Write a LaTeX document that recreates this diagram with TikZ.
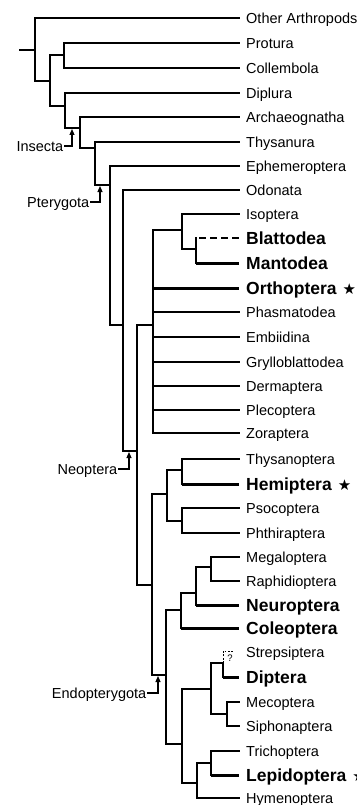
\documentclass[tikz,border=0pt]{standalone}
\usepackage{fontspec}
\setmainfont{Liberation Sans}
\newfontfamily\symfont{DejaVu Sans}
\usetikzlibrary{arrows.meta}
\newcommand\starsym{\hspace{6pt}{\symfont\fontsize{15}{15}\selectfont\mdseries ★}}
\begin{document}
\begin{tikzpicture}[x=1pt,y=-1pt,
  br/.style={line width=1.1pt,line cap=rect},
  thk/.style={line width=3pt},
  dsh/.style={line width=2.6pt,dash pattern=on 7pt off 4pt,dash phase=8pt},
  qdsh/.style={line width=0.9pt,dash pattern=on 1.8pt off 1.6pt},
  leaf/.style={anchor=west,inner xsep=7pt,inner ysep=0pt,text height=10.4pt,text depth=0pt,font=\fontsize{14.5}{14.5}\selectfont},
  bleaf/.style={leaf,text height=12.5pt,font=\fontsize{17.5}{17.5}\selectfont\bfseries},
  grp/.style={anchor=east,inner sep=0.5pt,text height=10.4pt,text depth=0pt,font=\fontsize{14.5}{14.5}\selectfont},
  arr/.style={line width=1.1pt,-{Triangle[width=5pt,length=6pt]}},
]
\useasboundingbox (0,0) rectangle (356,805);
% leaves
\node[leaf]  (oth)  at (239,18)  {Other Arthropods};
\node[leaf]  (pro)  at (239,43)  {Protura};
\node[leaf]  (col)  at (239,68)  {Collembola};
\node[leaf]  (dip)  at (239,93)  {Diplura};
\node[leaf]  (arc)  at (239,117) {Archaeognatha};
\node[leaf]  (thy)  at (239,142) {Thysanura};
\node[leaf]  (eph)  at (239,166) {Ephemeroptera};
\node[leaf]  (odo)  at (239,190) {Odonata};
\node[leaf]  (iso)  at (239,214) {Isoptera};
\node[bleaf] (bla)  at (239,238) {Blattodea};
\node[bleaf] (man)  at (239,263) {Mantodea};
\node[bleaf] (ort)  at (239,288) {Orthoptera\starsym};
\node[leaf]  (pha)  at (239,312) {Phasmatodea};
\node[leaf]  (emb)  at (239,337) {Embiidina};
\node[leaf]  (gry)  at (239,362) {Grylloblattodea};
\node[leaf]  (der)  at (239,386) {Dermaptera};
\node[leaf]  (ple)  at (239,410) {Plecoptera};
\node[leaf]  (zor)  at (239,433) {Zoraptera};
\node[leaf]  (thp)  at (239,459) {Thysanoptera};
\node[bleaf] (hem)  at (239,484) {Hemiptera\starsym};
\node[leaf]  (pso)  at (239,508) {Psocoptera};
\node[leaf]  (pht)  at (239,533) {Phthiraptera};
\node[leaf]  (meg)  at (239,557) {Megaloptera};
\node[leaf]  (rap)  at (239,581) {Raphidioptera};
\node[bleaf] (neu)  at (239,605) {Neuroptera};
\node[bleaf] (cole) at (239,628) {Coleoptera};
\node[leaf]  (str)  at (239,652) {Strepsiptera};
\node[bleaf] (dipt) at (239,677) {Diptera};
\node[leaf]  (mec)  at (239,702) {Mecoptera};
\node[leaf]  (sip)  at (239,726) {Siphonaptera};
\node[leaf]  (tri)  at (239,751) {Trichoptera};
\node[bleaf] (lep)  at (239,775) {Lepidoptera\starsym};
\node[leaf]  (hym)  at (239,798) {Hymenoptera};
% internal nodes
\coordinate (r0) at (20,50);
\coordinate (A) at (35,50);
\coordinate (B) at (50,81);
\coordinate (C) at (64,55);
\coordinate (D) at (65,106);
\coordinate (E) at (80,128);
\coordinate (F) at (95,148);
\coordinate (G) at (110,185);
\coordinate (H) at (123,325);
\coordinate (I) at (137,451);
\coordinate (J) at (153,325);
\coordinate (L) at (182,230);
\coordinate (M) at (196,249);
\coordinate (K) at (152,585);
\coordinate (N) at (167,494);
\coordinate (P) at (182,470);
\coordinate (Q) at (182,521);
\coordinate (O) at (166,675);
\coordinate (R) at (181,610);
\coordinate (T) at (196,593);
\coordinate (U) at (211,567);
\coordinate (S) at (182,744);
\coordinate (V) at (211,689);
\coordinate (W) at (223,663);
\coordinate (X) at (227,714);
\coordinate (Y) at (197,783);
\coordinate (Z) at (211,763);
\coordinate (strq) at (223,651);
\coordinate (strE) at (233,651);
% root
\draw[br] (r0) -- (A);
% vertical bars
\draw[br] (A |- oth) -- (A |- B);
\draw[br] (B |- C) -- (B |- D);
\draw[br] (C |- pro) -- (C |- col);
\draw[br] (D |- dip) -- (D |- E);
\draw[br] (E |- arc) -- (E |- F);
\draw[br] (F |- thy) -- (F |- G);
\draw[br] (G |- eph) -- (G |- H);
\draw[br] (H |- odo) -- (H |- I);
\draw[br] (I |- J) -- (I |- K);
\draw[br] (J |- L) -- (J |- zor);
\draw[br] (L |- iso) -- (L |- M);
\draw[br] (M |- bla) -- (M |- man);
\draw[br] (K |- N) -- (K |- O);
\draw[br] (N |- P) -- (N |- Q);
\draw[br] (P |- thp) -- (P |- hem);
\draw[br] (Q |- pso) -- (Q |- pht);
\draw[br] (O |- R) -- (O |- S);
\draw[br] (R |- T) -- (R |- cole);
\draw[br] (T |- U) -- (T |- neu);
\draw[br] (U |- meg) -- (U |- rap);
\draw[br] (S |- V) -- (S |- Y);
\draw[br] (V |- W) -- (V |- X);
\draw[br] (W) -- (W |- dipt);
\draw[br] (X |- mec) -- (X |- sip);
\draw[br] (Y |- Z) -- (Y |- hym);
\draw[br] (Z |- tri) -- (Z |- lep);
% horizontal edges
\draw[br] (A |- oth) -- (oth);
\draw[br] (A |- B) -- (B);
\draw[br] (B |- C) -- (C);
\draw[br] (B |- D) -- (D);
\draw[br] (C |- pro) -- (pro);
\draw[br] (C |- col) -- (col);
\draw[br] (D |- dip) -- (dip);
\draw[br] (D |- E) -- (E);
\draw[br] (E |- arc) -- (arc);
\draw[br] (E |- F) -- (F);
\draw[br] (F |- thy) -- (thy);
\draw[br] (F |- G) -- (G);
\draw[br] (G |- eph) -- (eph);
\draw[br] (G |- H) -- (H);
\draw[br] (H |- odo) -- (odo);
\draw[br] (H |- I) -- (I);
\draw[br] (I |- J) -- (J);
\draw[br] (I |- K) -- (K);
\draw[br] (J |- L) -- (L);
\draw[thk] (J |- ort) -- (ort);
\draw[br] (J |- pha) -- (pha);
\draw[br] (J |- emb) -- (emb);
\draw[br] (J |- gry) -- (gry);
\draw[br] (J |- der) -- (der);
\draw[br] (J |- ple) -- (ple);
\draw[br] (J |- zor) -- (zor);
\draw[br] (L |- iso) -- (iso);
\draw[br] (L |- M) -- (M);
\draw[dsh] (M |- bla) -- (bla);
\draw[thk] (M |- man) -- (man);
\draw[br] (K |- N) -- (N);
\draw[br] (K |- O) -- (O);
\draw[br] (N |- P) -- (P);
\draw[br] (N |- Q) -- (Q);
\draw[br] (P |- thp) -- (thp);
\draw[thk] (P |- hem) -- (hem);
\draw[br] (Q |- pso) -- (pso);
\draw[br] (Q |- pht) -- (pht);
\draw[br] (O |- R) -- (R);
\draw[br] (O |- S) -- (S);
\draw[br] (R |- T) -- (T);
\draw[thk] (R |- cole) -- (cole);
\draw[br] (T |- U) -- (U);
\draw[thk] (T |- neu) -- (neu);
\draw[br] (U |- meg) -- (meg);
\draw[br] (U |- rap) -- (rap);
\draw[br] (S |- V) -- (V);
\draw[br] (S |- Y) -- (Y);
\draw[br] (V |- W) -- (W);
\draw[br] (V |- X) -- (X);
\draw[qdsh] (W) -- (strq) -- (strE);
\draw[thk] (W |- dipt) -- (dipt);
\draw[br] (X |- mec) -- (mec);
\draw[br] (X |- sip) -- (sip);
\draw[br] (Y |- Z) -- (Z);
\draw[br] (Y |- hym) -- (hym);
\draw[br] (Z |- tri) -- (tri);
\draw[thk] (Z |- lep) -- (lep);
\node[inner sep=0pt,font=\fontsize{9.5}{9.5}\selectfont] (qm) at (230,658) {?};
% group labels
\node[grp] (insecta) at (64,146) {Insecta};
\coordinate (insT) at (72,129);
\draw[arr] (insecta.east) -| (insT);
\node[grp] (ptery) at (90,202) {Pterygota};
\coordinate (ptT) at (100,186);
\draw[arr] (ptery.east) -| (ptT);
\node[grp] (neop) at (118,469) {Neoptera};
\coordinate (neT) at (129,452);
\draw[arr] (neop.east) -| (neT);
\node[grp] (endo) at (147,693) {Endopterygota};
\coordinate (enT) at (158,676);
\draw[arr] (endo.east) -| (enT);
\end{tikzpicture}
\end{document}
